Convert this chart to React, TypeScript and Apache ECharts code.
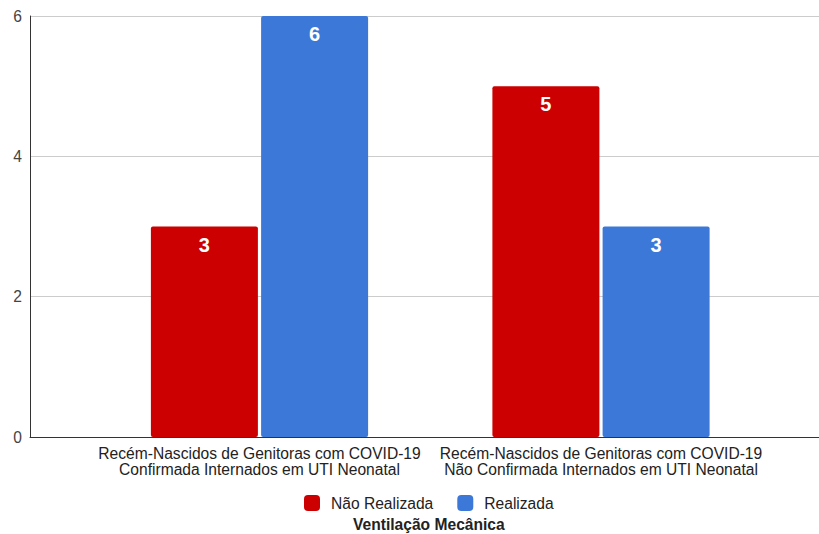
import React, { useEffect, useRef } from "react";
import * as echarts from "echarts";

const categories = [
  "Recém-Nascidos de Genitoras com COVID-19\nConfirmada Internados em UTI Neonatal",
  "Recém-Nascidos de Genitoras com COVID-19\nNão Confirmada Internados em UTI Neonatal",
];
const naoRealizada = [3, 5];
const realizada = [6, 3];
const seriesNames = ["Não Realizada", "Realizada"];
const yTicks = { min: 0, max: 6, interval: 2 };
const legendTitle = "Ventilação Mecânica";

const FONT = "'Liberation Sans', Arial, sans-serif";
const FS = 15.6;

export default function App() {
  const ref = useRef<HTMLDivElement>(null);
  useEffect(() => {
    if (!ref.current) return;
    const chart = echarts.init(ref.current, null, { renderer: "svg" });
    chart.setOption({
      animation: false,
      backgroundColor: "#ffffff",
      textStyle: { fontFamily: FONT },
      grid: [
        { left: 30, right: 0, top: 16, bottom: 97 },
        { left: 88.75, width: 683, top: 16, bottom: 97 },
      ],
      xAxis: [
        {
          gridIndex: 0,
          type: "value",
          min: 0,
          max: 1,
          axisLine: { show: true, lineStyle: { color: "#333333", width: 1 } },
          axisTick: { show: false },
          axisLabel: { show: false },
          splitLine: { show: false },
        },
        {
          gridIndex: 1,
          type: "category",
          data: categories,
          axisLine: { show: false },
          axisTick: { show: false },
          axisLabel: {
            color: "#222222",
            fontSize: FS,
            fontFamily: FONT,
            lineHeight: 16,
            margin: 8,
            interval: 0,
          },
        },
      ],
      yAxis: [
        {
          gridIndex: 0,
          type: "value",
          min: yTicks.min,
          max: yTicks.max,
          interval: yTicks.interval,
          axisLine: { show: true, lineStyle: { color: "#333333", width: 1 } },
          axisTick: { show: false },
          axisLabel: { color: "#444444", fontSize: FS, fontFamily: FONT, margin: 8 },
          splitLine: { show: true, lineStyle: { color: "#cccccc", width: 1 } },
        },
        {
          gridIndex: 1,
          type: "value",
          min: yTicks.min,
          max: yTicks.max,
          show: false,
          splitLine: { show: false },
        },
      ],
      legend: {
        left: 304,
        top: 495,
        padding: 0,
        itemWidth: 16,
        itemHeight: 16,
        itemGap: 24,
        icon: "roundRect",
        textStyle: { color: "#222222", fontSize: FS, fontFamily: FONT, padding: [0, 0, 0, 6] },
        data: seriesNames,
      },
      graphic: [
        {
          type: "text",
          left: 353,
          top: 516,
          style: {
            text: legendTitle,
            font: `bold ${FS}px ${FONT}`,
            fill: "#222222",
          },
        },
      ],
      series: [
        {
          name: seriesNames[0],
          type: "bar",
          xAxisIndex: 1,
          yAxisIndex: 1,
          data: naoRealizada,
          barWidth: 107,
          barGap: "3%",
          itemStyle: { color: "#cc0000", borderRadius: 2 },
          label: {
            show: true,
            position: "insideTop",
            distance: 8,
            color: "#ffffff",
            fontSize: 20,
            fontWeight: "bold",
            fontFamily: FONT,
          },
        },
        {
          name: seriesNames[1],
          type: "bar",
          xAxisIndex: 1,
          yAxisIndex: 1,
          data: realizada,
          barWidth: 107,
          barGap: "3%",
          itemStyle: { color: "#3c78d8", borderRadius: 2 },
          label: {
            show: true,
            position: "insideTop",
            distance: 8,
            color: "#ffffff",
            fontSize: 20,
            fontWeight: "bold",
            fontFamily: FONT,
          },
        },
      ],
    });
    return () => chart.dispose();
  }, []);
  return (
    <div
      ref={ref}
      style={{ position: "fixed", left: 0, top: 0, width: 819, height: 534 }}
    />
  );
}
